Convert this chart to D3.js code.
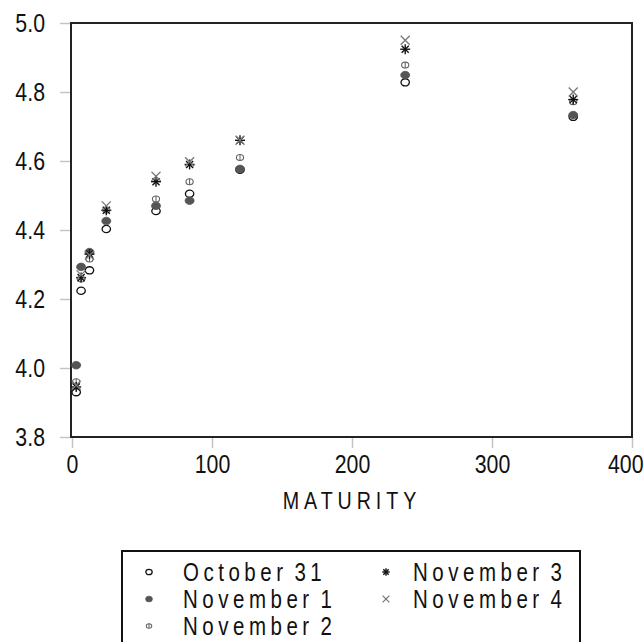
<!DOCTYPE html>
<html>
<head>
<meta charset="utf-8">
<script src="https://cdn.jsdelivr.net/npm/d3@7"></script>
<style>
  html, body { margin: 0; padding: 0; background: #fff; }
  svg { display: block; }
  text { font-family: "Liberation Sans", Arial, sans-serif; fill: #111; }
</style>
</head>
<body>
<svg id="chart" width="644" height="642"></svg>
<script>
// Maturity (days) of each observation
const maturity = [3, 6.5, 12.5, 24.5, 60, 84, 120, 238, 358];

// Yields for each trading date
const oct31 = [3.930, 4.224, 4.283, 4.403, 4.455, 4.505, 4.575, 4.828, 4.728];
const nov1  = [4.008, 4.293, 4.336, 4.426, 4.470, 4.485, 4.577, 4.849, 4.733];
const nov2  = [3.960, 4.258, 4.316, 4.458, 4.490, 4.540, 4.610, 4.878, 4.772];
const nov3  = [3.945, 4.262, 4.330, 4.457, 4.540, 4.590, 4.660, 4.924, 4.778];
const nov4  = [3.950, 4.270, 4.327, 4.470, 4.556, 4.598, 4.660, 4.950, 4.800];

const seriesNames = ["October 31", "November 1", "November 2", "November 3", "November 4"];
const seriesValues = [oct31, nov1, nov2, nov3, nov4];

const xTicks = [0, 100, 200, 300, 400];
const yTicks = [3.8, 4.0, 4.2, 4.4, 4.6, 4.8, 5.0];
const xTitle = "MATURITY";

// Horizontal squeeze giving the Liberation Sans glyphs a narrow cut
const NARROW = 0.82;

const svg = d3.select("#chart");
const W = 644;

const plot = { left: 71, right: 632, top: 23, bottom: 437 };

const x = d3.scaleLinear().domain([0, 400]).range([72, 632]);
const y = d3.scaleLinear().domain([3.8, 5.0]).range([plot.bottom, plot.top]);

// Marker painters, one per trading date
const markers = [
  // open circle
  (g, s) => g.append("ellipse").attr("rx", 4.2 * s).attr("ry", 3.6 * s)
    .attr("fill", "#fff").attr("stroke", "#111").attr("stroke-width", 1.3),
  // filled circle
  (g, s) => g.append("ellipse").attr("rx", 4.5 * s).attr("ry", 3.8 * s)
    .attr("fill", "#555").attr("stroke", "#555").attr("stroke-width", 0.8),
  // circle with vertical bar
  (g, s) => {
    g.append("ellipse").attr("rx", 3.6 * s).attr("ry", 3.0 * s)
      .attr("fill", "none").attr("stroke", "#666").attr("stroke-width", 1.1);
    g.append("line").attr("x1", 0).attr("x2", 0).attr("y1", -3.0 * s).attr("y2", 3.0 * s)
      .attr("stroke", "#666").attr("stroke-width", 1.1);
  },
  // asterisk
  (g, s) => {
    const r = 5 * s;
    [0, 45, 90, 135].forEach(a => {
      const t = a * Math.PI / 180;
      g.append("line")
        .attr("x1", -r * Math.cos(t)).attr("y1", -r * Math.sin(t))
        .attr("x2", r * Math.cos(t)).attr("y2", r * Math.sin(t))
        .attr("stroke", "#111").attr("stroke-width", 1.4);
    });
  },
  // cross
  (g, s) => {
    const r = 4.5 * s;
    g.append("line").attr("x1", -r).attr("y1", -r).attr("x2", r).attr("y2", r)
      .attr("stroke", "#777").attr("stroke-width", 1.3);
    g.append("line").attr("x1", -r).attr("y1", r).attr("x2", r).attr("y2", -r)
      .attr("stroke", "#777").attr("stroke-width", 1.3);
  }
];

// Move a text's x/y into a transform so it can be squeezed about its anchor
function squeeze(sel) {
  sel.each(function () {
    const t = d3.select(this);
    const tx = +t.attr("x") || 0;
    const ty = +t.attr("y") || 0;
    t.attr("x", 0).attr("y", 0)
      .attr("transform", `translate(${tx},${ty}) scale(${NARROW},1)`);
  });
}

// Axes
const yAxis = d3.axisLeft(y).tickValues(yTicks).tickFormat(d3.format(".1f")).tickSize(11).tickPadding(15);
const xAxis = d3.axisBottom(x).tickValues(xTicks).tickFormat(d3.format("d")).tickSize(11).tickPadding(7);

const gy = svg.append("g").attr("transform", `translate(${plot.left},0)`).call(yAxis);
const gx = svg.append("g").attr("transform", `translate(0,${plot.bottom})`).call(xAxis);
[gy, gx].forEach(g => {
  g.select(".domain").remove();
  g.selectAll(".tick line").attr("stroke", "#c4c4c4").attr("stroke-width", 1.5);
  g.selectAll(".tick text").attr("font-size", 26).attr("fill", "#111")
    .attr("font-family", "'Liberation Sans', Arial, sans-serif");
});

// The last x label sits against the page edge: right-align it inside the page
gx.selectAll(".tick")
  .filter(d => d === xTicks[xTicks.length - 1])
  .select("text")
  .attr("text-anchor", "end")
  .attr("x", W - 1 - x(xTicks[xTicks.length - 1]));

gy.selectAll(".tick text").call(squeeze);
gx.selectAll(".tick text").call(squeeze);

// Frame
svg.append("rect")
  .attr("x", plot.left).attr("y", plot.top)
  .attr("width", plot.right - plot.left).attr("height", plot.bottom - plot.top)
  .attr("fill", "none").attr("stroke", "#222").attr("stroke-width", 2);

// Points
seriesValues.forEach((vals, i) => {
  const g = svg.append("g");
  vals.forEach((v, j) => {
    const p = g.append("g").attr("transform", `translate(${x(maturity[j])},${y(v)})`);
    markers[i](p, 1);
  });
});

// Axis title
svg.append("text")
  .attr("x", 352).attr("y", 509)
  .attr("text-anchor", "middle")
  .attr("font-size", 24)
  .attr("letter-spacing", 6)
  .text(xTitle)
  .call(squeeze);

// Legend
const legend = svg.append("g");
legend.append("rect")
  .attr("x", 122).attr("y", 551)
  .attr("width", 458).attr("height", 110)
  .attr("fill", "#fff").attr("stroke", "#111").attr("stroke-width", 2);

const legendPos = [
  { sx: 149, tx: 183, y: 572 },
  { sx: 149, tx: 183, y: 599 },
  { sx: 149, tx: 183, y: 626 },
  { sx: 386, tx: 413, y: 572 },
  { sx: 386, tx: 413, y: 599 }
];
seriesNames.forEach((name, i) => {
  const pos = legendPos[i];
  const m = legend.append("g").attr("transform", `translate(${pos.sx},${pos.y})`);
  markers[i](m, 0.75);
  legend.append("text")
    .attr("x", pos.tx).attr("y", pos.y)
    .attr("dy", "0.36em")
    .attr("font-size", 25)
    .attr("letter-spacing", 5.5)
    .attr("word-spacing", -4)
    .text(name)
    .call(squeeze);
});
</script>
</body>
</html>
